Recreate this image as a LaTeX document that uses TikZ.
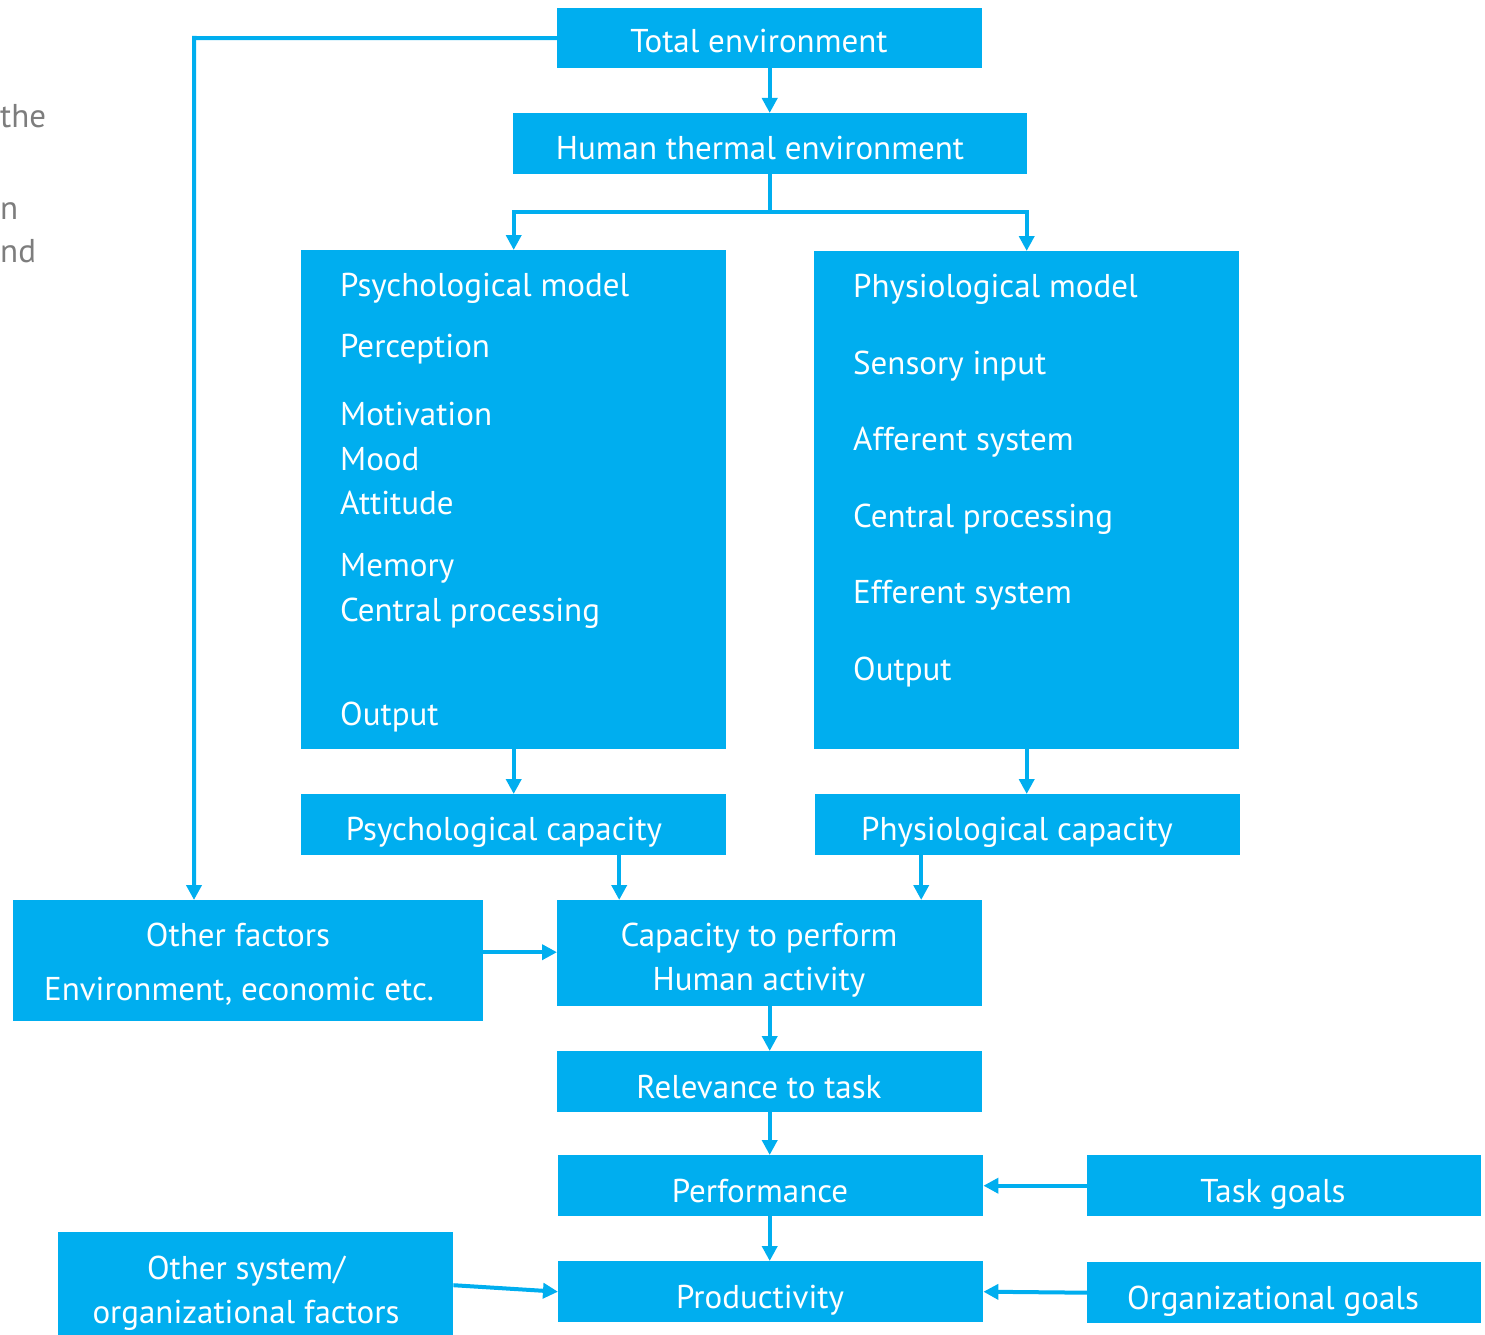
\documentclass[tikz,border=0pt]{standalone}
\usepackage{fontspec}
\setmainfont{PT Sans}
\usetikzlibrary{arrows.meta}
\definecolor{cblue}{RGB}{0,174,239}
\definecolor{sidegray}{RGB}{125,125,125}
\begin{document}
\begin{tikzpicture}[x=1pt,y=-1pt,
  box/.style={rectangle, fill=cblue, draw=none, inner sep=0pt, anchor=north west},
  txt/.style={text=white, inner sep=0pt, text height=24pt, text depth=0pt, font=\fontsize{33}{40}\selectfont},
  ltxt/.style={txt, anchor=west},
  side/.style={text=sidegray, inner sep=0pt, anchor=west, text height=24pt, text depth=0pt, font=\fontsize{33}{40}\selectfont},
  arr/.style={draw=cblue, line width=4pt, -{Triangle[length=15pt,width=15pt]}},
  ln/.style={draw=cblue, line width=4pt}]
\useasboundingbox (0,0) rectangle (1485,1335);

% fragments of the neighbouring paragraph
\node[side] (s1) at (0,116) {the};
\node[side] (s2) at (0,207) {n};
\node[side] (s3) at (0,250) {nd};

% boxes
\node[box, minimum width=425pt, minimum height=60pt] (tot) at (557,8) {};
\node[box, minimum width=514pt, minimum height=61pt] (hte) at (513,113) {};
\node[box, minimum width=425pt, minimum height=499pt] (pm) at (301,250) {};
\node[box, minimum width=425pt, minimum height=498pt] (phm) at (814,251) {};
\node[box, minimum width=425pt, minimum height=61pt] (pcap) at (301,794) {};
\node[box, minimum width=425pt, minimum height=61pt] (phcap) at (815,794) {};
\node[box, minimum width=470pt, minimum height=121pt] (oth) at (13,900) {};
\node[box, minimum width=425pt, minimum height=106pt] (cap) at (557,900) {};
\node[box, minimum width=425pt, minimum height=61pt] (rel) at (557,1051) {};
\node[box, minimum width=425pt, minimum height=61pt] (perf) at (558,1155) {};
\node[box, minimum width=394pt, minimum height=61pt] (tg) at (1087,1155) {};
\node[box, minimum width=395pt, minimum height=103pt] (os) at (58,1232) {};
\node[box, minimum width=425pt, minimum height=61pt] (prod) at (558,1261) {};
\node[box, minimum width=394pt, minimum height=61pt] (og) at (1087,1262) {};

% box texts
\node[txt] (tTot) at (759,41) {Total environment};
\node[txt] (tHte) at (760,147) {Human thermal environment};
\node[ltxt] (p1) at (340,284) {Psychological model};
\node[ltxt] (p2) at (340,345) {Perception};
\node[ltxt] (p3) at (340,413) {Motivation};
\node[ltxt] (p4) at (340,458) {Mood};
\node[ltxt] (p5) at (340,502) {Attitude};
\node[ltxt] (p6) at (340,564) {Memory};
\node[ltxt] (p7) at (340,609) {Central processing};
\node[ltxt] (p8) at (340,713) {Output};
\node[ltxt] (q1) at (853,285) {Physiological model};
\node[ltxt] (q2) at (853,362) {Sensory input};
\node[ltxt] (q3) at (853,438) {Afferent system};
\node[ltxt] (q4) at (853,515) {Central processing};
\node[ltxt] (q5) at (853,591) {Efferent system};
\node[ltxt] (q6) at (853,668) {Output};
\node[txt] (tPcap) at (504,828) {Psychological capacity};
\node[txt] (tPhcap) at (1017,828) {Physiological capacity};
\node[txt] (tOth1) at (238,934) {Other factors};
\node[txt] (tOth2) at (239,988) {Environment, economic etc.};
\node[txt] (tCap1) at (759,934) {Capacity to perform};
\node[txt] (tCap2) at (759,978) {Human activity};
\node[txt] (tRel) at (759,1086) {Relevance to task};
\node[txt] (tPerf) at (760,1190) {Performance};
\node[txt] (tProd) at (760,1296) {Productivity};
\node[txt] (tTg) at (1273,1190) {Task goals};
\node[txt] (tOg) at (1273,1297) {Organizational goals};
\node[txt] (tOs1) at (246,1267) {Other system/};
\node[txt] (tOs2) at (246,1311) {organizational factors};

% connectors
\coordinate (split) at ([yshift=-38pt]hte.south);
\coordinate (bend) at (194,38);
\draw[arr] (tot.south) -- (tot.south |- hte.north);
\draw[ln] (hte.south) -- (split);
\draw[arr] (split) -| (pm.north);
\draw[arr] (split) -| (phm.north);
\draw[arr] (pm.south) -- (pcap.north);
\draw[arr] (phm.south) -- (phm.south |- phcap.north);
\draw[arr] ([xshift=105.5pt]pcap.south) -- ([xshift=105.5pt]pcap.south |- cap.north);
\draw[arr] ([xshift=-106.5pt]phcap.south) -- ([xshift=-106.5pt]phcap.south |- cap.north);
\draw[arr] (tot.west) -- (bend) -- (bend |- oth.north);
\draw[arr] ([yshift=8.5pt]oth.east) -- ([yshift=8.5pt]oth.east -| cap.west);
\draw[arr] (cap.south -| tot.south) -- (rel.north -| tot.south);
\draw[arr] (rel.south -| tot.south) -- (perf.north -| tot.south);
\draw[arr] (perf.south -| tot.south) -- (prod.north -| tot.south);
\draw[arr] (tg.west) -- (perf.east);
\draw[arr] (og.west) -- (prod.east);
\draw[arr] ([yshift=-1.5pt]os.east) -- (prod.west);
\end{tikzpicture}
\end{document}
